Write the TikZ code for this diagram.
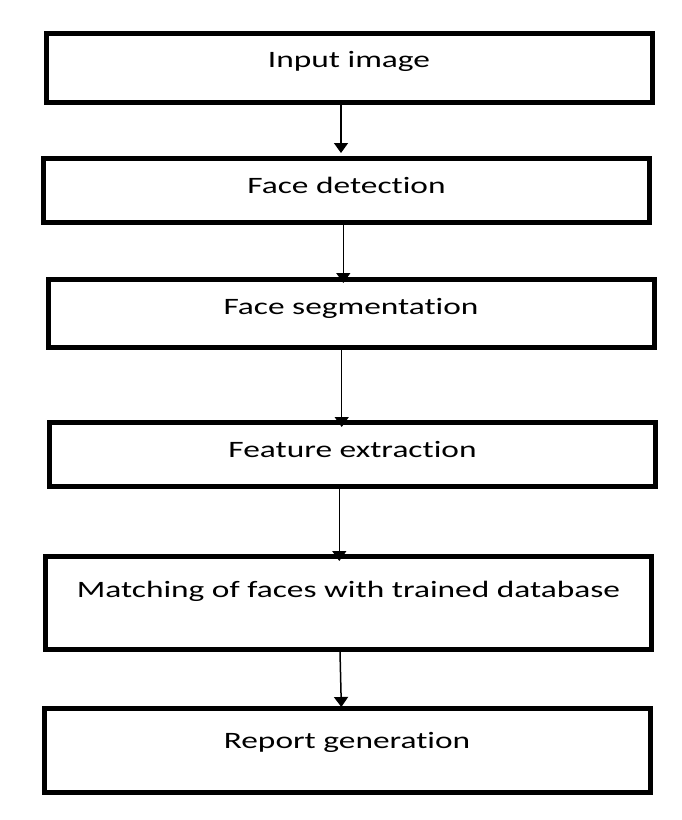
\documentclass[tikz,border=0pt]{standalone}
\usepackage{fontspec}
\setmainfont{Carlito}[FakeStretch=1.42,Ligatures=NoCommon]
\usetikzlibrary{arrows.meta}
\begin{document}
\begin{tikzpicture}[x=1pt,y=-1pt,
  box/.style={draw, line width=5pt, inner sep=0pt, minimum width=606pt, anchor=north,
    font=\fontsize{23.5}{28}\selectfont},
  arr/.style={line width=1.5pt, -{Triangle[width=14pt,length=10pt]}}]
\useasboundingbox (0,0) rectangle (682,820);
\node[box, text height=34.5pt, text depth=35pt] (b1) at (349,30.5) {Input image};
\node[box, text height=35pt, text depth=29pt] (b2) at (346.5,156) {Face detection};
\node[box, text height=35.5pt, text depth=32.5pt] (b3) at (351,276.5) {Face segmentation};
\node[box, text height=35.5pt, text depth=28.5pt] (b4) at (352.5,419.5) {Feature extraction};
\node[box, text height=41.5pt, text depth=51.5pt] (b5) at (348.5,553.5) {Matching of faces with trained database};
\node[box, text height=40.5pt, text depth=43.5pt] (b6) at (347,705.5) {Report generation};
\draw[arr, shorten >=3pt] ([xshift=-8pt]b1.south) -- ([xshift=-5.5pt]b2.north);
\draw[arr, shorten >=-6.5pt] ([xshift=-3.2pt]b2.south) -- ([xshift=-7.7pt]b3.north);
\draw[arr, shorten >=-7.5pt] ([xshift=-9.3pt]b3.south) -- ([xshift=-10.8pt]b4.north);
\draw[arr, shorten >=-7.5pt] ([xshift=-13.2pt]b4.south) -- ([xshift=-9.2pt]b5.north);
\draw[arr, shorten >=-1.5pt] ([xshift=-8.5pt]b5.south) -- ([xshift=-5.7pt]b6.north);
\end{tikzpicture}
\end{document}
